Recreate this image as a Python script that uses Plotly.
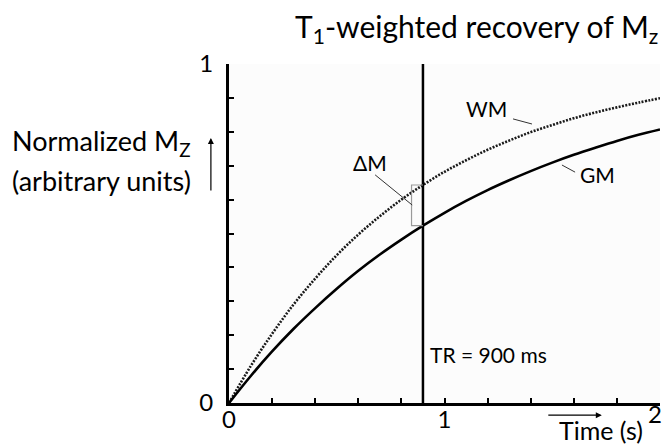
import plotly.graph_objects as go

# Recovery of longitudinal magnetisation after excitation (normalised units)
time_s = [0.0, 0.1, 0.2, 0.3, 0.4, 0.5, 0.6, 0.7, 0.8, 0.9, 1.0,
          1.1, 1.2, 1.3, 1.4, 1.5, 1.6, 1.7, 1.8, 1.9, 2.0]
mz_wm = [0.0, 0.108, 0.204, 0.291, 0.367, 0.436, 0.497, 0.551, 0.600, 0.643, 0.682,
         0.716, 0.747, 0.774, 0.799, 0.820, 0.840, 0.857, 0.872, 0.886, 0.899]
mz_gm = [0.0, 0.079, 0.152, 0.219, 0.280, 0.337, 0.390, 0.438, 0.482, 0.523, 0.561,
         0.596, 0.628, 0.657, 0.684, 0.709, 0.732, 0.753, 0.773, 0.791, 0.807]
tr_s = 0.9
tr_label = "TR = 900 ms"
x_tick_vals = [0, 1, 2]
y_tick_vals = [0, 1]

FONT = "Lato"
tr_idx = time_s.index(tr_s)
wm_at_tr = mz_wm[tr_idx]
gm_at_tr = mz_gm[tr_idx]

fig = go.Figure()
fig.add_trace(go.Scatter(
    x=time_s, y=mz_wm, mode="lines", line_shape="spline", cliponaxis=False,
    line=dict(color="#1a1a1a", width=2.6, dash="2px,1.4px"), name="WM",
))
fig.add_trace(go.Scatter(
    x=time_s, y=mz_gm, mode="lines", line_shape="spline", cliponaxis=False,
    line=dict(color="black", width=2.6), name="GM",
))

shapes = [
    # TR marker
    dict(type="line", xref="x", yref="y", x0=tr_s, x1=tr_s, y0=0, y1=1,
         line=dict(color="black", width=2.5)),
    # delta-M bracket between the two curves at TR
    dict(type="path", xref="x", yref="y",
         path=f"M {tr_s},{wm_at_tr} L {tr_s - 0.053},{wm_at_tr} "
              f"L {tr_s - 0.053},{gm_at_tr} L {tr_s},{gm_at_tr}",
         line=dict(color="#9a9a9a", width=1.2)),
    # leader lines to the labels
    dict(type="line", xref="x", yref="y", x0=0.678, y0=0.673, x1=0.850, y1=0.584,
         line=dict(color="#333", width=1)),
    dict(type="line", xref="x", yref="y", x0=1.318, y0=0.838, x1=1.406, y1=0.823,
         line=dict(color="#333", width=1)),
    dict(type="line", xref="x", yref="y", x0=1.545, y0=0.702, x1=1.606, y1=0.681,
         line=dict(color="#333", width=1)),
]

label_font = dict(family=FONT, size=21, color="black")
big_font = dict(family=FONT, size=27, color="black")
tick_font = dict(family=FONT, size=24, color="black")
annotations = [
    dict(text="T<sub>1</sub>-weighted recovery of M<sub>z</sub>", xref="paper", yref="paper",
         x=1.0, y=1.106, xanchor="right", yanchor="middle", showarrow=False,
         font=dict(family=FONT, size=30, color="black")),
    dict(text="Normalized M<sub>Z</sub>", xref="paper", yref="paper",
         x=-0.084, y=0.768, xanchor="right", yanchor="middle", showarrow=False, font=big_font),
    dict(text="(arbitrary units)", xref="paper", yref="paper",
         x=-0.084, y=0.655, xanchor="right", yanchor="middle", showarrow=False, font=big_font),
    dict(text="Time (s)", xref="paper", yref="paper", x=0.965, y=-0.081,
         xanchor="right", yanchor="middle", showarrow=False,
         font=dict(family=FONT, size=25, color="black")),
    # last x tick label, tucked inside the right edge of the figure
    dict(text=str(x_tick_vals[-1]), xref="x", yref="paper", x=x_tick_vals[-1], y=-0.032,
         xanchor="right", yanchor="middle", xshift=4, showarrow=False, font=tick_font),
    dict(text="WM", xref="x", yref="y", x=1.197, y=0.870, showarrow=False, font=label_font),
    dict(text="GM", xref="x", yref="y", x=1.712, y=0.673, showarrow=False, font=label_font),
    dict(text="ΔM", xref="x", yref="y", x=0.654, y=0.708, showarrow=False, font=label_font),
    dict(text=tr_label, xref="x", yref="y", x=tr_s, y=0.142, xanchor="left", xshift=5,
         showarrow=False, font=label_font),
    # axis direction arrows
    dict(text="", xref="paper", yref="paper", x=-0.042, y=0.782, axref="pixel", ayref="pixel",
         ax=0, ay=54, showarrow=True, arrowhead=2, arrowsize=1, arrowwidth=1.2, arrowcolor="black"),
    dict(text="", xref="paper", yref="paper", x=0.865, y=-0.036, axref="pixel", ayref="pixel",
         ax=-55, ay=0, showarrow=True, arrowhead=2, arrowsize=1, arrowwidth=1.2, arrowcolor="black"),
]

fig.update_layout(
    width=663, height=448,
    margin=dict(l=229, r=3, t=64, b=45),
    paper_bgcolor="white", plot_bgcolor="#fcfcfc",
    showlegend=False,
    shapes=shapes, annotations=annotations,
    xaxis=dict(range=[0, 2], tickvals=x_tick_vals,
               ticktext=[str(v) for v in x_tick_vals[:-1]] + [""],
               ticks="inside", ticklen=5, tickwidth=2, ticklabelstandoff=-7,
               tickcolor="black", showline=True, linewidth=3, linecolor="black",
               showgrid=False, zeroline=False, tickfont=tick_font,
               minor=dict(dtick=0.2, ticks="inside", ticklen=5, tickwidth=2, tickcolor="black",
                          showgrid=False)),
    yaxis=dict(range=[0, 1], tickvals=y_tick_vals, ticks="inside", ticklen=5, tickwidth=2,
               tickcolor="black", showline=True, linewidth=3, linecolor="black",
               showgrid=False, zeroline=False, tickfont=tick_font, ticklabelstandoff=8,
               minor=dict(dtick=0.1, ticks="inside", ticklen=5, tickwidth=2, tickcolor="black",
                          showgrid=False)),
)

fig.write_html("out.html")
